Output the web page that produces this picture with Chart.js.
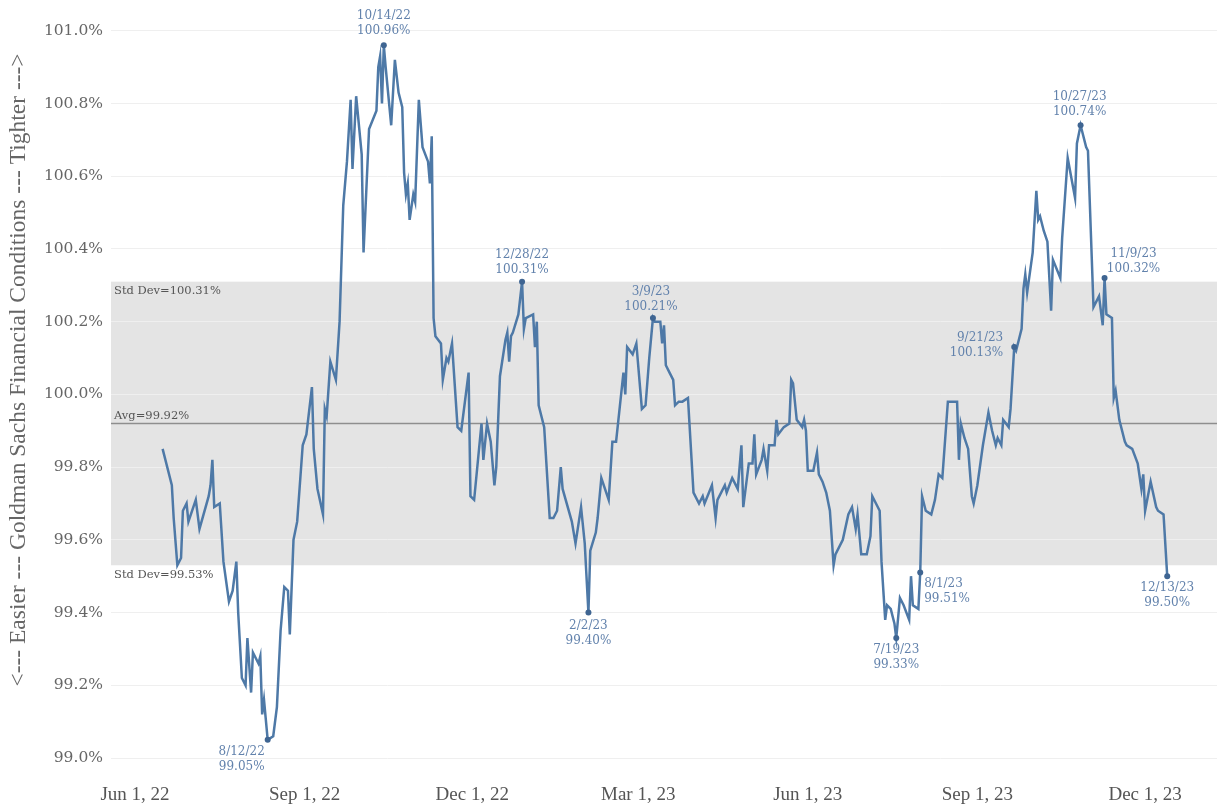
<!DOCTYPE html>
<html>
<head>
<meta charset="utf-8">
<script src="https://cdn.jsdelivr.net/npm/chart.js@4.4.1/dist/chart.umd.min.js"></script>
<style>
html,body{margin:0;padding:0;background:#fff}
#wrap{position:relative;width:1221px;height:807px}
</style>
</head>
<body>
<div id="wrap"><canvas id="c"></canvas></div>
<script>
// GS financial conditions index, daily closes
const obsDates = [
'2022-06-16','2022-06-21','2022-06-22','2022-06-24','2022-06-26','2022-06-27','2022-06-29','2022-06-30',
'2022-07-04','2022-07-06','2022-07-11','2022-07-12','2022-07-13','2022-07-14','2022-07-17','2022-07-19',
'2022-07-22','2022-07-24','2022-07-26','2022-07-27','2022-07-29','2022-07-31','2022-08-01','2022-08-03',
'2022-08-04','2022-08-07','2022-08-08','2022-08-09','2022-08-10','2022-08-12','2022-08-15','2022-08-17',
'2022-08-19','2022-08-21','2022-08-23','2022-08-24','2022-08-26','2022-08-28','2022-08-31','2022-09-02',
'2022-09-05','2022-09-06','2022-09-08','2022-09-11','2022-09-12','2022-09-13','2022-09-15','2022-09-18',
'2022-09-20','2022-09-22','2022-09-24','2022-09-26','2022-09-27','2022-09-29','2022-10-02','2022-10-03',
'2022-10-06','2022-10-10','2022-10-11','2022-10-12','2022-10-13','2022-10-14','2022-10-15','2022-10-18',
'2022-10-20','2022-10-22','2022-10-24','2022-10-25','2022-10-26','2022-10-27','2022-10-28','2022-10-30',
'2022-10-31','2022-11-02','2022-11-04','2022-11-07','2022-11-08','2022-11-09','2022-11-10','2022-11-11',
'2022-11-14','2022-11-15','2022-11-17','2022-11-18','2022-11-20','2022-11-23','2022-11-25','2022-11-29',
'2022-11-30','2022-12-02','2022-12-06','2022-12-07','2022-12-09','2022-12-11','2022-12-13','2022-12-14',
'2022-12-16','2022-12-19','2022-12-20','2022-12-21','2022-12-22','2022-12-23','2022-12-26','2022-12-28',
'2022-12-29','2022-12-30','2023-01-03','2023-01-04','2023-01-05','2023-01-06','2023-01-09','2023-01-12',
'2023-01-14','2023-01-16','2023-01-18','2023-01-19','2023-01-24','2023-01-26','2023-01-29','2023-01-31',
'2023-02-02','2023-02-03','2023-02-06','2023-02-07','2023-02-09','2023-02-13','2023-02-15','2023-02-17',
'2023-02-21','2023-02-22','2023-02-23','2023-02-26','2023-02-28','2023-03-03','2023-03-05','2023-03-07',
'2023-03-09','2023-03-10','2023-03-13','2023-03-14','2023-03-15','2023-03-16','2023-03-18','2023-03-20',
'2023-03-21','2023-03-23','2023-03-25','2023-03-28','2023-03-31','2023-04-03','2023-04-05','2023-04-06',
'2023-04-10','2023-04-12','2023-04-13','2023-04-17','2023-04-18','2023-04-21','2023-04-24','2023-04-26',
'2023-04-27','2023-04-30','2023-05-02','2023-05-03','2023-05-04','2023-05-07','2023-05-08','2023-05-10',
'2023-05-11','2023-05-14','2023-05-15','2023-05-16','2023-05-19','2023-05-22','2023-05-23','2023-05-24',
'2023-05-26','2023-05-29','2023-05-30','2023-05-31','2023-06-01','2023-06-04','2023-06-06','2023-06-07',
'2023-06-09','2023-06-11','2023-06-13','2023-06-15','2023-06-16','2023-06-20','2023-06-23','2023-06-25',
'2023-06-27','2023-06-28','2023-06-30','2023-07-03','2023-07-05','2023-07-06','2023-07-10','2023-07-11',
'2023-07-13','2023-07-14','2023-07-16','2023-07-18','2023-07-19','2023-07-21','2023-07-23','2023-07-26',
'2023-07-27','2023-07-28','2023-07-31','2023-08-01','2023-08-02','2023-08-04','2023-08-07','2023-08-09',
'2023-08-11','2023-08-13','2023-08-16','2023-08-18','2023-08-21','2023-08-22','2023-08-23','2023-08-25',
'2023-08-27','2023-08-29','2023-08-30','2023-09-01','2023-09-04','2023-09-07','2023-09-09','2023-09-11',
'2023-09-12','2023-09-14','2023-09-15','2023-09-18','2023-09-19','2023-09-21','2023-09-22','2023-09-25',
'2023-09-26','2023-09-27','2023-09-28','2023-10-01','2023-10-03','2023-10-04','2023-10-05','2023-10-07',
'2023-10-09','2023-10-11','2023-10-12','2023-10-16','2023-10-17','2023-10-20','2023-10-24','2023-10-25',
'2023-10-27','2023-10-30','2023-10-31','2023-11-03','2023-11-06','2023-11-08','2023-11-09','2023-11-10',
'2023-11-13','2023-11-14','2023-11-15','2023-11-17','2023-11-20','2023-11-21','2023-11-24','2023-11-27',
'2023-11-29','2023-11-30','2023-12-01','2023-12-04','2023-12-07','2023-12-08','2023-12-11','2023-12-13'
]
const gsfci = [
99.85,99.75,99.66,99.53,99.55,99.68,99.70,99.65,
99.71,99.63,99.72,99.75,99.82,99.69,99.70,99.54,
99.43,99.46,99.54,99.40,99.22,99.20,99.33,99.18,
99.29,99.26,99.28,99.12,99.16,99.05,99.06,99.14,
99.35,99.47,99.46,99.34,99.60,99.65,99.86,99.89,
100.02,99.85,99.74,99.67,99.96,99.94,100.09,100.04,
100.20,100.52,100.64,100.81,100.62,100.82,100.66,100.39,
100.73,100.78,100.90,100.93,100.80,100.96,100.90,100.74,
100.92,100.83,100.79,100.61,100.55,100.58,100.48,100.55,
100.53,100.81,100.68,100.64,100.58,100.71,100.21,100.16,
100.14,100.04,100.10,100.09,100.14,99.91,99.90,100.06,
99.72,99.71,99.92,99.82,99.92,99.87,99.75,99.80,
100.05,100.15,100.17,100.09,100.16,100.17,100.22,100.31,
100.18,100.21,100.22,100.13,100.20,99.97,99.91,99.66,
99.66,99.68,99.80,99.74,99.65,99.59,99.69,99.59,
99.40,99.57,99.62,99.66,99.77,99.71,99.87,99.87,
100.06,100.00,100.13,100.11,100.14,99.96,99.97,100.10,
100.21,100.20,100.20,100.14,100.19,100.08,100.06,100.04,
99.97,99.98,99.98,99.99,99.73,99.70,99.72,99.70,
99.75,99.66,99.71,99.75,99.73,99.77,99.74,99.86,
99.69,99.81,99.81,99.89,99.78,99.82,99.85,99.79,
99.86,99.86,99.93,99.89,99.91,99.92,100.04,100.03,
99.93,99.91,99.93,99.90,99.79,99.79,99.84,99.78,
99.76,99.73,99.68,99.53,99.56,99.60,99.67,99.69,
99.63,99.67,99.56,99.56,99.61,99.72,99.68,99.54,
99.38,99.42,99.41,99.37,99.33,99.44,99.42,99.38,
99.50,99.42,99.41,99.51,99.72,99.68,99.67,99.71,
99.78,99.77,99.98,99.98,99.98,99.82,99.92,99.88,
99.85,99.72,99.70,99.75,99.86,99.95,99.90,99.86,
99.88,99.86,99.93,99.91,99.96,100.13,100.12,100.18,
100.29,100.33,100.28,100.39,100.56,100.48,100.49,100.45,
100.42,100.23,100.37,100.32,100.43,100.65,100.54,100.69,
100.74,100.68,100.67,100.24,100.27,100.19,100.32,100.22,
100.21,99.99,100.01,99.93,99.87,99.86,99.85,99.81,
99.74,99.78,99.68,99.76,99.69,99.68,99.67,99.50
]

const avgLevel = 99.92
const stdHigh = 100.31
const stdLow = 99.53

const markedDates = ['2022-08-12','2022-10-14','2022-12-28','2023-02-02','2023-03-09','2023-07-19','2023-08-01','2023-09-21','2023-10-27','2023-11-09','2023-12-13']

const xTickDates = ['2022-06-01','2022-09-01','2022-12-01','2023-03-01','2023-06-01','2023-09-01','2023-12-01']
const yTickValues = [99.0,99.2,99.4,99.6,99.8,100.0,100.2,100.4,100.6,100.8,101.0]
const xRange = ['2022-05-19','2024-01-09']
const yRange = [98.945, 101.037]

const axisTitle = '<--- Easier --- Goldman Sachs Financial Conditions --- Tighter --->'

// where each marked label sits, relative to its point (pixels)
const markPlace = [
    {dx:-26, dy:12,  al:'center'},
    {dx:0,   dy:-29, al:'center'},
    {dx:0,   dy:-27, al:'center'},
    {dx:0,   dy:13,  al:'center'},
    {dx:-2,  dy:-26, al:'center'},
    {dx:0,   dy:12,  al:'center'},
    {dx:4,   dy:11,  al:'left'},
    {dx:-11, dy:-9,  al:'right'},
    {dx:-1,  dy:-28, al:'center'},
    {dx:29,  dy:-24, al:'center'},
    {dx:0,   dy:12,  al:'center'},
]

const day = s => Date.UTC(+s.slice(0,4), +s.slice(5,7)-1, +s.slice(8,10)) / 864e5
const mon = ['Jan','Feb','Mar','Apr','May','Jun','Jul','Aug','Sep','Oct','Nov','Dec']
const fmtTick = d => {
    const t = new Date(d * 864e5)
    return `${mon[t.getUTCMonth()]} ${t.getUTCDate()}, ${String(t.getUTCFullYear()).slice(2)}`
}
const fmtShort = s => `${+s.slice(5,7)}/${+s.slice(8,10)}/${s.slice(2,4)}`

const serie = obsDates.map((a,i) => ({x:day(a), y:gsfci[i]}))
const marks = markedDates.map(a => ({x:day(a), y:gsfci[obsDates.indexOf(a)], d:a}))

const BLUE = '#4e79a7'

const decor = {
    id: 'decor',
    beforeDraw(c) {
        const {ctx, chartArea:a, scales:{y}} = c
        const t = y.getPixelForValue(stdHigh), b = y.getPixelForValue(stdLow)
        ctx.save()
        ctx.fillStyle = '#e4e4e4'
        ctx.fillRect(a.left, t, a.right - a.left, b - t)
        ctx.restore()
    },
    beforeDatasetsDraw(c) {
        const {ctx, chartArea:a, scales:{y}} = c
        const t = y.getPixelForValue(stdHigh), b = y.getPixelForValue(stdLow), m = y.getPixelForValue(avgLevel)
        ctx.save()
        ctx.strokeStyle = '#8e8e8e'
        ctx.lineWidth = 1.5
        ctx.beginPath()
        ctx.moveTo(a.left, m)
        ctx.lineTo(a.right, m)
        ctx.stroke()

        ctx.font = '11.5px "DejaVu Serif"'
        ctx.fillStyle = '#555'
        ctx.textAlign = 'left'
        ctx.textBaseline = 'top'
        ctx.fillText(`Std Dev=${stdHigh.toFixed(2)}%`, a.left + 3, t + 4)
        ctx.fillText(`Std Dev=${stdLow.toFixed(2)}%`, a.left + 3, b + 4)
        ctx.textBaseline = 'bottom'
        ctx.fillText(`Avg=${avgLevel.toFixed(2)}%`, a.left + 3, m - 2)

        // y axis title
        ctx.font = '23.5px "Liberation Serif"'
        ctx.fillStyle = '#666'
        ctx.textAlign = 'center'
        ctx.textBaseline = 'middle'
        ctx.translate(19, 370)
        ctx.rotate(-Math.PI/2)
        ctx.fillText(axisTitle, 0, 0)
        ctx.restore()
    },
    afterDatasetsDraw(c) {
        const {ctx, scales:{x, y}} = c
        ctx.save()
        ctx.font = '12px "DejaVu Serif"'
        ctx.fillStyle = '#6282ac'
        ctx.textBaseline = 'middle'
        marks.forEach((p,i) => {
            const q = markPlace[i]
            const px = x.getPixelForValue(p.x) + q.dx, py = y.getPixelForValue(p.y) + q.dy
            ctx.textAlign = q.al
            ctx.fillText(fmtShort(p.d), px, py)
            ctx.fillText(p.y.toFixed(2) + '%', px, py + 15)
        })
        ctx.restore()
    }
}

new Chart(document.getElementById('c'), {
    type: 'line',
    data: {
        datasets: [
            {
                label: 'marks',
                data: marks,
                showLine: false,
                pointRadius: 3,
                pointBackgroundColor: '#3f6592',
                pointBorderWidth: 0,
                order: 0,
            },
            {
                label: 'GSFCI',
                data: serie,
                borderColor: BLUE,
                borderWidth: 2.5,
                pointRadius: 0,
                tension: 0,
                fill: false,
                order: 1,
            },
        ]
    },
    options: {
        responsive: true,
        maintainAspectRatio: false,
        animation: false,
        devicePixelRatio: 1,
        layout: { padding: { top: 4, left: 0, right: 0, bottom: 0 } },
        plugins: {
            legend: { display: false },
            tooltip: { enabled: false },
        },
        scales: {
            x: {
                type: 'linear',
                min: day(xRange[0]),
                max: day(xRange[1]),
                afterBuildTicks: s => { s.ticks = xTickDates.map(a => ({value: day(a)})) },
                afterFit: s => { s.height = 29 },
                grid: { display: false },
                border: { display: false },
                ticks: {
                    autoSkip: false,
                    maxRotation: 0,
                    padding: 0,
                    color: '#555',
                    font: { family: 'Liberation Serif', size: 19, lineHeight: 1 },
                    callback: v => fmtTick(v),
                },
            },
            y: {
                min: yRange[0],
                max: yRange[1],
                afterBuildTicks: s => { s.ticks = yTickValues.map(v => ({value: v})) },
                afterFit: s => { s.width = 111 },
                grid: { color: '#efefef', lineWidth: 1, drawTicks: false },
                border: { display: false },
                ticks: {
                    padding: 8,
                    color: '#666',
                    font: { family: 'DejaVu Serif', size: 15.5 },
                    callback: v => v.toFixed(1) + '%',
                },
            },
        },
    },
    plugins: [decor],
})
</script>
</body>
</html>
